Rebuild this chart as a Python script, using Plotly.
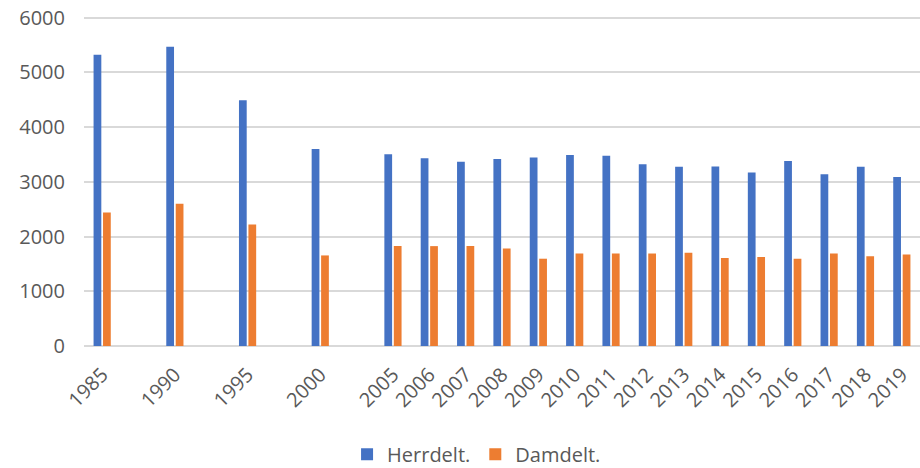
import plotly.graph_objects as go

years = ["1985", "1990", "1995", "2000", "2005", "2006", "2007", "2008", "2009",
         "2010", "2011", "2012", "2013", "2014", "2015", "2016", "2017", "2018", "2019"]
herrdelt = [5320, 5470, 4490, 3600, 3505, 3430, 3365, 3415, 3445,
            3490, 3475, 3320, 3275, 3280, 3170, 3380, 3140, 3275, 3090]
damdelt = [2440, 2600, 2220, 1655, 1825, 1825, 1825, 1780, 1595,
           1690, 1690, 1690, 1705, 1610, 1625, 1595, 1690, 1640, 1670]
# years before 2005 are five years apart: one empty category slot between them
gap_after = ["1985", "1990", "1995", "2000"]

cats, h_vals, d_vals = [], [], []
n_space = 1
for y, h, d in zip(years, herrdelt, damdelt):
    cats.append(y); h_vals.append(h); d_vals.append(d)
    if y in gap_after:
        cats.append(" " * n_space); h_vals.append(None); d_vals.append(None)
        n_space += 1

FONT = "Open Sans"
TXT = "#595959"

fig = go.Figure()
fig.add_trace(go.Bar(x=cats, y=h_vals, name="Herrdelt.", marker_color="#4472C4",
                     marker_line_width=0))
fig.add_trace(go.Bar(x=cats, y=d_vals, name="Damdelt.", marker_color="#ED7D31",
                     marker_line_width=0))

fig.update_layout(
    width=920, height=468,
    margin=dict(l=84, r=0, t=16, b=122, autoexpand=False),
    paper_bgcolor="white", plot_bgcolor="white",
    barmode="group", bargap=0.48, bargroupgap=0.18,
    font=dict(family=FONT, size=20, color=TXT),
    showlegend=True,
    legend=dict(orientation="h", xref="container", yref="paper",
                x=0.518, xanchor="center", y=-0.328, yanchor="middle",
                font=dict(family=FONT, size=20, color=TXT),
                itemclick=False, traceorder="normal"),
)
fig.update_xaxes(type="category", categoryorder="array", categoryarray=cats,
                 tickangle=-45, showgrid=False, showline=False, ticks="",
                 automargin=False, ticklabelstandoff=12,
                 tickfont=dict(family=FONT, size=20, color=TXT))
fig.update_yaxes(range=[0, 6030], tickvals=[0, 1000, 2000, 3000, 4000, 5000, 6000],
                 showgrid=True, gridcolor="#D9D9D9",
                 gridwidth=1.5, zeroline=True, zerolinecolor="#D9D9D9", zerolinewidth=1.5,
                 showline=False, ticks="", ticklabelstandoff=18, automargin=False,
                 ticklabeloverflow="allow",
                 tickfont=dict(family=FONT, size=20, color=TXT))

# remove the browser's default 8px page margin so the figure fills the window
fig.write_html("out.html",
               config={"displayModeBar": False},
               post_script="document.body.style.margin='0';document.body.style.overflow='hidden';")
